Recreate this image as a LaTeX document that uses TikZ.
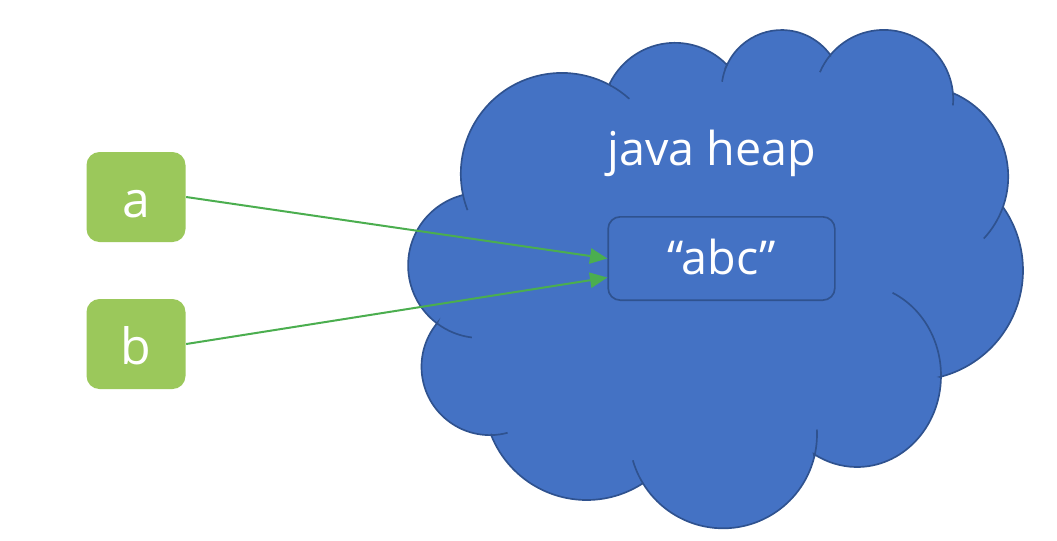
\documentclass[tikz,border=0pt]{standalone}
\usepackage{fontspec}
\setmainfont{Open Sans}
\usetikzlibrary{arrows.meta,calc,positioning}
\definecolor{HeapBlue}{HTML}{4472C4}
\definecolor{HeapEdge}{HTML}{2F528F}
\definecolor{VarGreen}{HTML}{9BC85B}
\definecolor{RefGreen}{HTML}{4BAE4F}

\begin{document}
\begin{tikzpicture}[x=0.3pt,y=-0.3pt,
  var/.style={fill=VarGreen,rounded corners=3.9pt,minimum width=29.7pt,minimum height=27pt,
    text height=12pt,text depth=0pt,text=white,font=\fontsize{15}{18}\selectfont},
  ref/.style={-{Triangle[length=5.2pt,width=4.6pt]},RefGreen,line width=0.6pt}]
  \useasboundingbox (0,0) rectangle (1057,540);
  % lobe centres of the cloud
  \coordinate (l1) at (561.8,173.9);
  \coordinate (l2) at (674.9,115.3);
  \coordinate (l3) at (781.6,90.1);
  \coordinate (l4) at (883.8,99.3);
  \coordinate (l5) at (917.4,176.6);
  \coordinate (l6) at (913,270.3);
  \coordinate (l7) at (857,375.6);
  \coordinate (l8) at (723.1,434.4);
  \coordinate (l9) at (586.7,397.2);
  \coordinate (l10) at (489.9,366.7);
  \coordinate (l11) at (480.7,265.4);
  \filldraw[fill=HeapBlue,draw=HeapEdge,line width=0.5pt]
    ($(l1)+(167.95:101)$) arc[start angle=167.95,end angle=298.5,radius=101]
    -- ($(l2)+(206.5:72.5)$) arc[start angle=206.5,end angle=316,radius=72.5]
    -- ($(l3)+(204.7:60.1)$) arc[start angle=204.7,end angle=324.3,radius=60.1]
    -- ($(l4)+(219.7:69.4)$) arc[start angle=219.7,end angle=354.8,radius=69.4]
    -- ($(l5)+(293.1:90.8)$) arc[start angle=293.1,end angle=379.6,radius=90.8]
    -- ($(l6)+(-35.1:110)$) arc[start angle=-35.1,end angle=75.8,radius=110]
    -- ($(l7)+({84*cos(1)},{91.4*sin(1)})$) arc[start angle=1,end angle=121,x radius=84,y radius=91.4]
    -- ($(l8)+(13.7:93.9)$) arc[start angle=13.7,end angle=148.6,radius=93.9]
    -- ($(l9)+(56.9:102.8)$) arc[start angle=56.9,end angle=158.4,radius=102.8]
    -- ($(l10)+(89:68.4)$) arc[start angle=89,end angle=219.4,radius=68.4]
    -- ($(l11)+(127:72.6)$) arc[start angle=127,end angle=255.9,radius=72.6]
    -- cycle;
  % inner ends of the puffs
  \foreach \c/\s/\e/\rx/\ry in {l1/159/168/101/101, l1/298.5/312/101/101,
      l3/188/204.7/60.1/60.1, l4/203/219.7/69.4/69.4, l4/354.8/365/69.4/69.4,
      l5/379.6/403/90.8/90.8, l7/-65/1/84/91.4, l8/-3/13.7/93.9/93.9,
      l8/148.6/164/93.9/93.9, l10/75/89/68.4/68.4, l11/97/127/72.6/72.6}
    \draw[HeapEdge,line width=0.5pt] ($(\c)+({\rx*cos(\s)},{\ry*sin(\s)})$)
      arc[start angle=\s,end angle=\e,x radius=\rx,y radius=\ry];

  \node[anchor=base,text=white,font=\fontsize{14}{17}\selectfont] (heap) at (712,165) {java heap};
  \node[draw=HeapEdge,line width=0.5pt,rounded corners=3.6pt,minimum width=68pt,minimum height=25pt,
    text height=9.3pt,text depth=0pt,text=white,font=\fontsize{14}{17}\selectfont] (str) at (721.5,258.5) {“abc”};
  \node[var] (a) at (136,197) {a};
  \node[var] (b) at (136,344) {b};
  \draw[ref] (a.east) -- (str.west);
  \draw[ref] (b.east) -- ([yshift=-5.7pt]str.west);
\end{tikzpicture}
\end{document}
